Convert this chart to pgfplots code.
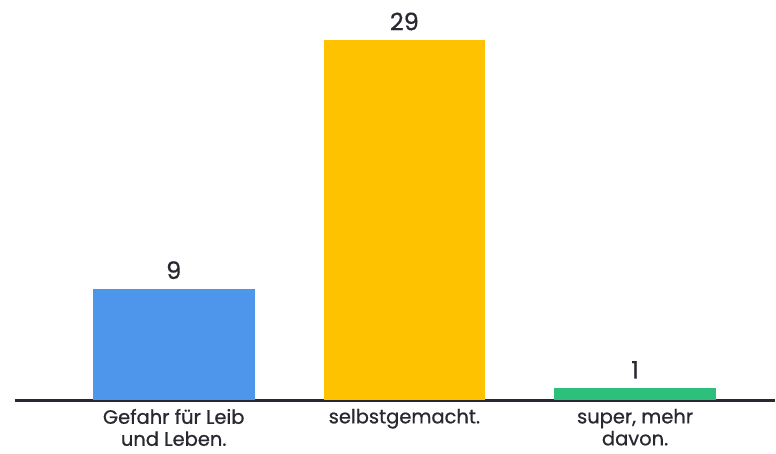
\documentclass[border=0pt]{standalone}
\usepackage{fontspec}
\setmainfont{Poppins}[FakeBold=0.7]
\usepackage{pgfplots}
\pgfplotsset{compat=1.18}
\definecolor{cblue}{RGB}{77,150,235}
\definecolor{cyellow}{RGB}{255,194,0}
\definecolor{cgreen}{RGB}{44,192,124}
\definecolor{ctext}{RGB}{40,40,48}
\begin{document}
\begin{tikzpicture}
\begin{axis}[
  scale only axis,
  width=761bp, height=401bp,
  xmin=-0.688, xmax=2.606,
  ymin=0, ymax=32.2,
  ybar, bar width=162bp,
  axis x line=bottom,
  axis y line=none,
  axis line style={ctext, line width=2.2bp, -},
  xtick={0,1,2},
  xticklabels={Gefahr für Leib\\und Leben., selbstgemacht., {super, mehr\\davon.}},
  major tick length=0pt,
  xticklabel style={align=center, font=\fontsize{19.5bp}{22bp}\selectfont, text=ctext, yshift=-5bp},
  ytick=\empty,
  /pgf/number format/assume math mode=true,
  nodes near coords,
  nodes near coords style={font=\fontsize{24bp}{26bp}\selectfont, text=ctext, yshift=6bp},
  clip=false,
]
\addplot[fill=cblue, draw=none, bar shift=0pt] coordinates {(0,9)};
\addplot[fill=cyellow, draw=none, bar shift=0pt] coordinates {(1,29)};
\addplot[fill=cgreen, draw=none, bar shift=0pt] coordinates {(2,1)};
\path ([xshift=-15bp,yshift=-53bp]rel axis cs:0,0) rectangle (rel axis cs:1,1);
\end{axis}
\end{tikzpicture}
\end{document}
